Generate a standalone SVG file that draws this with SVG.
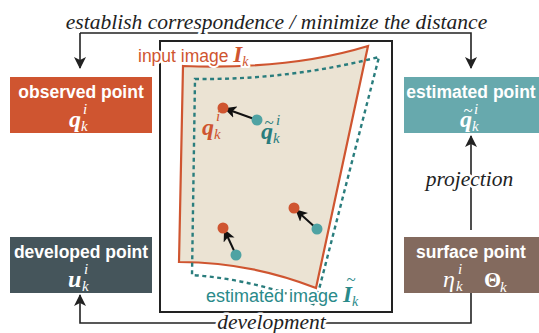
<svg xmlns="http://www.w3.org/2000/svg" width="539" height="333" viewBox="0 0 539 333">
<defs>
<style>
.lbl{font-family:"Liberation Sans",Arial,sans-serif;font-weight:bold;font-size:17.5px;fill:#fff;text-anchor:middle}
.mathw{font-family:"Liberation Serif","Times New Roman",serif;font-style:italic;font-weight:bold;font-size:24px;fill:#fff}
.sm{font-family:"Liberation Serif","Times New Roman",serif;font-style:italic;font-size:15px}
.tl{font-family:"Liberation Serif","Times New Roman",serif;font-size:17px;text-anchor:middle}
.it{font-family:"Liberation Serif","Times New Roman",serif;font-style:italic;font-size:21.5px;fill:#222;paint-order:stroke;stroke:#fff;stroke-width:5px;stroke-linejoin:round}
.conn{fill:none;stroke:#222;stroke-width:1.6}
.arr{fill:none;stroke:#111;stroke-width:2}
.halo{paint-order:stroke;stroke:#fff;stroke-width:4px;stroke-linejoin:round}
</style>
<marker id="ah" viewBox="0 0 12 12" refX="11" refY="6" markerWidth="12" markerHeight="12" markerUnits="userSpaceOnUse" orient="auto">
<path d="M0,0 L12,6 L0,12 L3,6 Z" fill="#111"/>
</marker>
<marker id="ah2" viewBox="0 0 12 12" refX="11" refY="6" markerWidth="12" markerHeight="12" markerUnits="userSpaceOnUse" orient="auto">
<path d="M0,0 L12,6 L0,12 L3,6 Z" fill="#222"/>
</marker>
</defs>
<rect width="539" height="333" fill="#fff"/>

<g id="frame">
<rect x="160" y="41" width="232" height="271" fill="#fff" stroke="#222" stroke-width="2"/>
<path d="M183,66 Q290,70 368,46 L316,288 Q250,262 179,262 Z" fill="#ebe3d3" stroke="#cf5530" stroke-width="2.2"/>
<path d="M195,79 Q290,80 379,57 L315,305 Q260,280 192,275 Z" fill="none" stroke="#2a7d7d" stroke-width="2.4" stroke-dasharray="4,3.5"/>
</g>

<g id="points">
<line x1="257" y1="120" x2="225" y2="108.5" class="arr" marker-end="url(#ah)"/>
<line x1="317" y1="229" x2="296" y2="210" class="arr" marker-end="url(#ah)"/>
<line x1="236" y1="255" x2="224.5" y2="230" class="arr" marker-end="url(#ah)"/>
<circle cx="223" cy="108" r="5.5" fill="#cf5530"/>
<circle cx="257" cy="120" r="5.5" fill="#4fa3a3"/>
<circle cx="294" cy="208" r="5.5" fill="#cf5530"/>
<circle cx="317" cy="229" r="5.5" fill="#4fa3a3"/>
<circle cx="223" cy="228" r="5.5" fill="#cf5530"/>
<circle cx="236" cy="255" r="5.5" fill="#4fa3a3"/>
<text x="202" y="135" font-family="Liberation Serif,serif" font-style="italic" font-weight="bold" font-size="24" fill="#cf5530">q</text>
<text x="216" y="121" class="sm" fill="#cf5530">i</text>
<text x="214" y="139" class="sm" fill="#cf5530">k</text>
<text x="261" y="139" font-family="Liberation Serif,serif" font-style="italic" font-weight="bold" font-size="24" fill="#2a7d7d">q</text>
<text x="269" y="128" class="tl" fill="#2a7d7d">~</text>
<text x="276" y="125" class="sm" fill="#2a7d7d">i</text>
<text x="273" y="143" class="sm" fill="#2a7d7d">k</text>
</g>

<g id="label-input">
<text x="138" y="62" class="halo" font-family="Liberation Sans,Arial,sans-serif" font-size="17.5" fill="#cf5530">input image <tspan font-family="Liberation Serif,serif" font-style="italic" font-weight="bold" font-size="23">I</tspan><tspan font-family="Liberation Serif,serif" font-style="italic" font-size="14" dy="4">k</tspan></text>
</g>
<g id="label-estimated">
<text x="206" y="302" class="halo" font-family="Liberation Sans,Arial,sans-serif" font-size="18" fill="#2a8a8a">estimated image <tspan font-family="Liberation Serif,serif" font-style="italic" font-weight="bold" font-size="23">I</tspan><tspan font-family="Liberation Serif,serif" font-style="italic" font-size="14" dy="4">k</tspan></text>
<text x="351" y="285" class="tl" fill="#2a8a8a">~</text>
</g>

<g id="connectors">
<path d="M80,33 V68" class="conn" marker-end="url(#ah2)"/>
<path d="M80,33 H471 V68" class="conn" marker-end="url(#ah2)"/>
<path d="M471,293 V323 H80 V295" class="conn" marker-end="url(#ah2)"/>
<path d="M471,230 V136" class="conn" marker-end="url(#ah2)"/>
<text x="276.5" y="29" class="it" text-anchor="middle">establish correspondence / minimize the distance</text>
<text x="271.5" y="329" class="it" text-anchor="middle">development</text>
<text x="469.5" y="186" class="it" text-anchor="middle">projection</text>
</g>

<g id="observed">
<rect x="10" y="77" width="142" height="56" fill="#cf5530"/>
<text x="81" y="98" class="lbl">observed point</text>
<text x="69" y="127" class="mathw">q</text>
<text x="83" y="114" class="sm" fill="#fff">i</text>
<text x="81" y="131" class="sm" fill="#fff">k</text>
</g>

<g id="estimated">
<rect x="404" y="77" width="135" height="56" fill="#67a9ad"/>
<text x="471" y="98" class="lbl">estimated point</text>
<text x="460" y="127" class="mathw">q</text>
<text x="468" y="116" class="tl" fill="#fff">~</text>
<text x="474" y="114" class="sm" fill="#fff">i</text>
<text x="472" y="131" class="sm" fill="#fff">k</text>
</g>

<g id="developed">
<rect x="10" y="237" width="142" height="56" fill="#45555b"/>
<text x="81" y="258" class="lbl">developed point</text>
<text x="68" y="287" class="mathw">u</text>
<text x="84" y="274" class="sm" fill="#fff">i</text>
<text x="82" y="291" class="sm" fill="#fff">k</text>
</g>

<g id="surface">
<rect x="404" y="237" width="135" height="56" fill="#836a5e"/>
<text x="471" y="258" class="lbl">surface point</text>
<text x="443" y="287" font-family="Liberation Serif,serif" font-style="italic" font-size="24" fill="#fff">η</text>
<text x="458" y="274" class="sm" fill="#fff">i</text>
<text x="456" y="291" class="sm" fill="#fff">k</text>
<text x="484" y="287" font-family="Liberation Serif,serif" font-weight="bold" font-size="22" fill="#fff">Θ</text>
<text x="500" y="292" class="sm" fill="#fff">k</text>
</g>
</svg>
